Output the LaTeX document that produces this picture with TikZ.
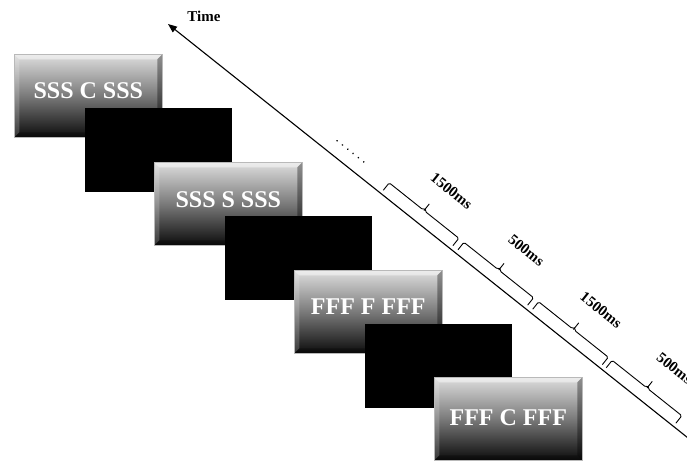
\documentclass[tikz,border=0pt]{standalone}
\usepackage{fontspec}
\setmainfont{Liberation Serif}
\usetikzlibrary{arrows.meta,calc}

\definecolor{screentop}{RGB}{222,222,222}
\definecolor{screenmid}{RGB}{122,122,122}
\definecolor{screenbot}{RGB}{12,12,12}

\begin{document}
\begin{tikzpicture}[x=1pt,y=-1pt,
  screen/.style={draw=gray!55, line width=0.6pt, anchor=north west,
    minimum width=148pt, minimum height=83pt, inner sep=0pt,
    top color=screentop, bottom color=screenbot, middle color=screenmid,
    path picture={
      \coordinate (pnw) at (path picture bounding box.north west);
      \coordinate (pne) at (path picture bounding box.north east);
      \coordinate (psw) at (path picture bounding box.south west);
      \coordinate (pse) at (path picture bounding box.south east);
      % bevelled rim
      \fill[white,opacity=.45] (pnw) -- (pne) -- ($(pne)+(-5,5)$) -- ($(pnw)+(5,5)$) -- cycle;
      \fill[white,opacity=.18] (pnw) -- ($(pnw)+(5,5)$) -- ($(psw)+(5,-5)$) -- (psw) -- cycle;
      \fill[black,opacity=.35] (pne) -- (pse) -- ($(pse)+(-5,-5)$) -- ($(pne)+(-5,5)$) -- cycle;
      \fill[black,opacity=.25] (psw) -- (pse) -- ($(pse)+(-5,-5)$) -- ($(psw)+(5,-5)$) -- cycle;
    }},
  blank/.style={fill=black, anchor=north west, minimum width=147pt,
    minimum height=84pt, inner sep=0pt},
  stimtext/.style={text=white, inner sep=0pt, font=\fontsize{24}{24}\selectfont\bfseries},
  timeline/.style={line width=1.1pt, -{Triangle[length=9pt,width=7pt]}},
  bracket/.style={line width=0.9pt, rounded corners=1.5pt},
  duration/.style={inner sep=0pt, font=\fontsize{15}{15}\selectfont\bfseries, rotate=-38.52}
]
\useasboundingbox (0,0) rectangle (687,461);
\clip (0,0) rectangle (687,461);

% stimulus screens and blank screens, later ones on top
\node[screen] (s1) at (14,54) {};
\node[stimtext] (t1) at ($(s1.center)+(0,-5)$) {SSS C SSS};
\node[blank] (b1) at (85,108) {};
\node[screen] (s2) at (154,162) {};
\node[stimtext] (t2) at ($(s2.center)+(0,-4)$) {SSS S SSS};
\node[blank] (b2) at (225,216) {};
\node[screen] (s3) at (294,270) {};
\node[stimtext] (t3) at ($(s3.center)+(0,-5)$) {FFF F FFF};
\node[blank] (b3) at (365,324) {};
\node[screen] (s4) at (434,377) {};
\node[stimtext] (t4) at ($(s4.center)+(0,-1)$) {FFF C FFF};

% time axis
\coordinate (tip) at (168,24);
\coordinate (tail) at (715.7,460);
\draw[timeline] (tail) -- (tip);
\node[font=\fontsize{15}{15}\selectfont\bfseries, inner sep=0pt] (timelabel) at (204,16) {Time};

% durations along the axis
\begin{scope}[shift={(tip)}, rotate=-38.52, y=1pt]
  \foreach \k in {0,...,5}
    \fill (205+6.8*\k,14) circle (0.9);
  \foreach \tz/\lab [count=\n] in {272/1500ms, 367.5/500ms, 463/1500ms, 557/500ms}{
    \draw[bracket] (\tz,4) -- (\tz,13.5) -- (\tz+43,13.5) -- (\tz+44.5,16) -- (\tz+46,13.5) -- (\tz+89,13.5) -- (\tz+89,4);
    \draw[bracket] (\tz+44.5,13.5) -- (\tz+44.5,22);
    \node[duration] (d\n) at (\tz+54,46) {\lab};
  }
\end{scope}
\end{tikzpicture}
\end{document}
